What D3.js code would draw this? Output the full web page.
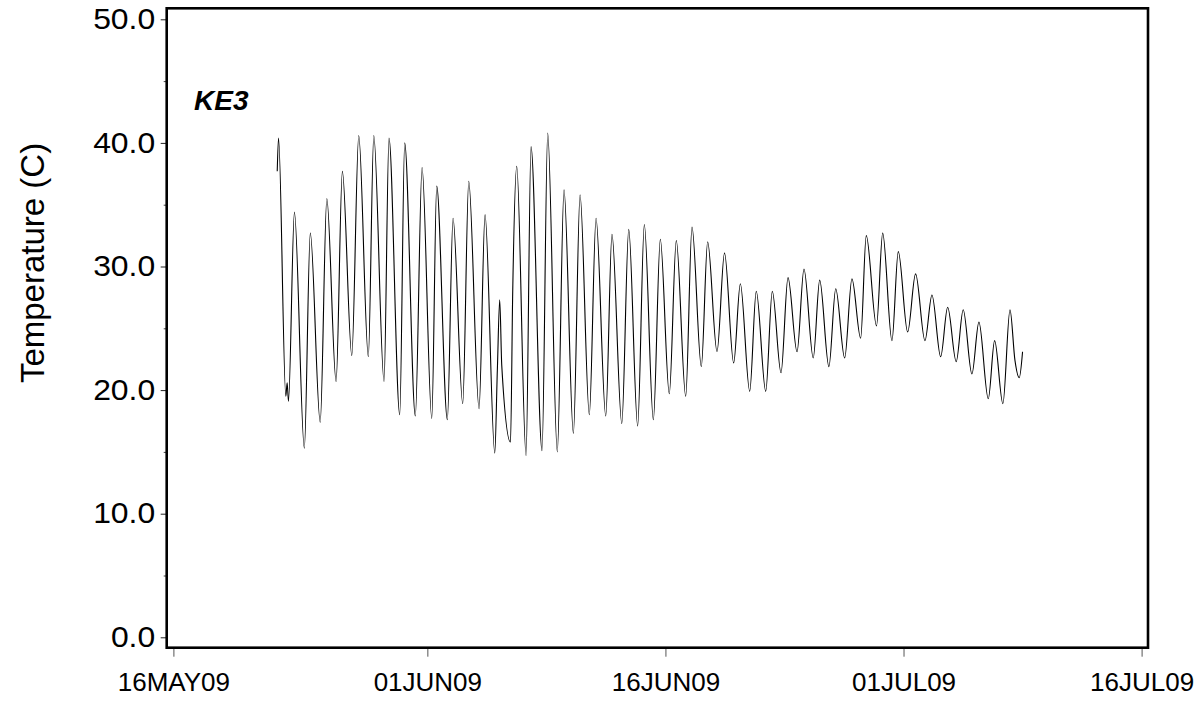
<!DOCTYPE html>
<html>
<head>
<meta charset="utf-8">
<script src="https://cdn.jsdelivr.net/npm/d3@7"></script>
<style>
  body { margin: 0; background: #fff; }
  svg { display: block; }
</style>
</head>
<body>
<svg width="1202" height="702"></svg>
<script>
// readings: daily highs/lows (plus a few wiggles)
const times = [
  "2009-05-22 13:00","2009-05-22 15:00","2009-05-23 02:00","2009-05-23 04:00","2009-05-23 06:00","2009-05-23 15:00",
  "2009-05-24 06:00","2009-05-24 15:00","2009-05-25 06:00","2009-05-25 16:00","2009-05-26 06:00","2009-05-26 15:30",
  "2009-05-27 05:45","2009-05-27 16:15","2009-05-28 06:45","2009-05-28 15:00","2009-05-29 06:30","2009-05-29 14:00",
  "2009-05-30 06:15","2009-05-30 13:45","2009-05-31 05:50","2009-05-31 16:00","2009-06-01 06:40","2009-06-01 14:10",
  "2009-06-02 06:15","2009-06-02 14:50","2009-06-03 05:30","2009-06-03 14:35","2009-06-04 06:10","2009-06-04 15:15",
  "2009-06-05 05:55","2009-06-05 09:50","2009-06-05 13:25","2009-06-05 16:30","2009-06-06 05:45","2009-06-06 09:05","2009-06-06 15:10",
  "2009-06-07 05:15","2009-06-07 12:45","2009-06-08 05:25","2009-06-08 14:00","2009-06-09 04:30","2009-06-09 14:40",
  "2009-06-10 04:50","2009-06-10 14:55","2009-06-11 04:55","2009-06-11 15:05","2009-06-12 05:45","2009-06-12 15:10",
  "2009-06-13 06:00","2009-06-13 16:30","2009-06-14 06:00","2009-06-14 16:05","2009-06-15 05:45","2009-06-15 16:15",
  "2009-06-16 05:50","2009-06-16 16:25","2009-06-17 06:40","2009-06-17 16:10","2009-06-18 06:15","2009-06-18 15:50",
  "2009-06-19 06:00","2009-06-19 17:20","2009-06-20 07:10","2009-06-20 17:15","2009-06-21 07:25","2009-06-21 17:20",
  "2009-06-22 07:40","2009-06-22 17:35","2009-06-23 06:45","2009-06-23 17:20","2009-06-24 07:00","2009-06-24 17:30",
  "2009-06-25 07:30","2009-06-25 17:15","2009-06-26 07:10","2009-06-26 17:30","2009-06-27 07:00","2009-06-27 18:00",
  "2009-06-28 07:10","2009-06-28 15:40","2009-06-29 07:10","2009-06-29 16:30","2009-06-30 06:30","2009-06-30 16:05",
  "2009-07-01 06:15","2009-07-01 18:15","2009-07-02 08:25","2009-07-02 19:00","2009-07-03 08:10","2009-07-03 18:45",
  "2009-07-04 07:40","2009-07-04 18:15","2009-07-05 07:25","2009-07-05 18:00","2009-07-06 08:10","2009-07-06 17:45",
  "2009-07-07 06:15","2009-07-07 17:00","2009-07-08 00:30","2009-07-08 07:00","2009-07-08 12:00"
];

const temps = [
  37.7, 40.4, 19.5, 20.6, 19.1, 34.4,
  15.3, 32.7, 17.4, 35.5, 20.7, 37.7,
  22.8, 40.6, 22.7, 40.6, 20.7, 40.4,
  18.0, 40.0, 17.9, 38.0, 17.7, 36.5,
  17.6, 33.9, 18.9, 36.9, 18.5, 34.2,
  14.9, 21.6, 27.3, 22.0, 15.8, 28.0, 38.1,
  14.7, 39.7, 15.1, 40.8, 15.0, 36.2,
  16.5, 35.8, 18.0, 33.9, 17.9, 32.6,
  17.3, 33.0, 17.1, 33.4, 17.6, 32.2,
  19.7, 32.1, 19.5, 33.2, 21.9, 32.0,
  23.1, 31.1, 22.2, 28.6, 19.9, 28.0,
  19.9, 28.0, 21.4, 29.1, 23.1, 29.8,
  22.6, 28.9, 21.9, 28.2, 22.6, 29.0,
  24.2, 32.5, 25.2, 32.7, 24.0, 31.2,
  24.7, 29.4, 24.0, 27.7, 22.7, 26.7,
  22.3, 26.5, 21.3, 25.5, 19.3, 24.0,
  18.9, 26.5, 22.4, 21.0, 23.1
];

const xTickDates = ["2009-05-16", "2009-06-01", "2009-06-16", "2009-07-01", "2009-07-16"];
const yTicks = [0, 10, 20, 30, 40, 50];
const yMinor = [5, 15, 25, 35, 45];
const siteName = "KE3";
const yTitle = "Temperature (C)";

const parseTime = d3.timeParse("%Y-%m-%d %H:%M");
const parseDay = d3.timeParse("%Y-%m-%d");
const data = times.map((t, i) => ({ t: parseTime(t), v: temps[i] }));
const tickDates = xTickDates.map(parseDay);

const svg = d3.select("svg");
const font = "'Liberation Sans', Arial, Helvetica, sans-serif";

// frame box (axes sit on its left and bottom edges)
const box = { left: 166.7, right: 1148, top: 8.3, bottom: 647.7 };

const x = d3.scaleTime()
  .domain([tickDates[0], tickDates[tickDates.length - 1]])
  .range([173.4, 1141.6]);

const y = d3.scaleLinear()
  .domain([0, 50])
  .range([637.3, 19.3]);

// y axis, major + minor ticks
const yAxis = svg.append("g")
  .attr("transform", `translate(${box.left},0)`)
  .call(d3.axisLeft(y).tickValues(yTicks).tickSize(6).tickPadding(5.5).tickFormat(d3.format(".1f")));
yAxis.select(".domain").remove();
yAxis.selectAll("line").attr("stroke", "#222");
// labels in the original are a touch wider than Arial, stretch them a bit
yAxis.selectAll("text")
  .attr("font-family", font)
  .attr("font-size", 29)
  .attr("fill", "#000")
  .attr("x", -11.5 / 1.1)
  .attr("transform", "scale(1.1,1)");

const yAxisMinor = svg.append("g")
  .attr("transform", `translate(${box.left},0)`)
  .call(d3.axisLeft(y).tickValues(yMinor).tickSize(3).tickFormat(""));
yAxisMinor.select(".domain").remove();
yAxisMinor.selectAll("line").attr("stroke", "#444");

// x axis
const fmt = d3.timeFormat("%d%b%y");
const xAxis = svg.append("g")
  .attr("transform", `translate(0,${box.bottom})`)
  .call(d3.axisBottom(x).tickValues(tickDates).tickSize(9).tickPadding(16)
    .tickFormat(d => fmt(d).toUpperCase()));
xAxis.select(".domain").remove();
xAxis.selectAll("line").attr("stroke", "#555");
xAxis.selectAll("text")
  .attr("font-family", font)
  .attr("font-size", 26)
  .attr("fill", "#000");

// the temperature trace
const line = d3.line()
  .x(d => x(d.t))
  .y(d => y(d.v))
  .curve(d3.curveMonotoneX);

svg.append("path")
  .datum(data)
  .attr("d", line)
  .attr("fill", "none")
  .attr("stroke", "#000")
  .attr("stroke-width", 1.1);

// frame
svg.append("rect")
  .attr("x", box.left)
  .attr("y", box.top)
  .attr("width", box.right - box.left)
  .attr("height", box.bottom - box.top)
  .attr("fill", "none")
  .attr("stroke", "#000")
  .attr("stroke-width", 2.6);

// site label
svg.append("text")
  .attr("x", 194)
  .attr("y", 110)
  .attr("font-family", font)
  .attr("font-size", 28)
  .attr("font-weight", "bold")
  .attr("font-style", "italic")
  .text(siteName);

// y title
svg.append("text")
  .attr("transform", "translate(44,263) rotate(-90)")
  .attr("text-anchor", "middle")
  .attr("font-family", font)
  .attr("font-size", 33)
  .text(yTitle);
</script>
</body>
</html>
